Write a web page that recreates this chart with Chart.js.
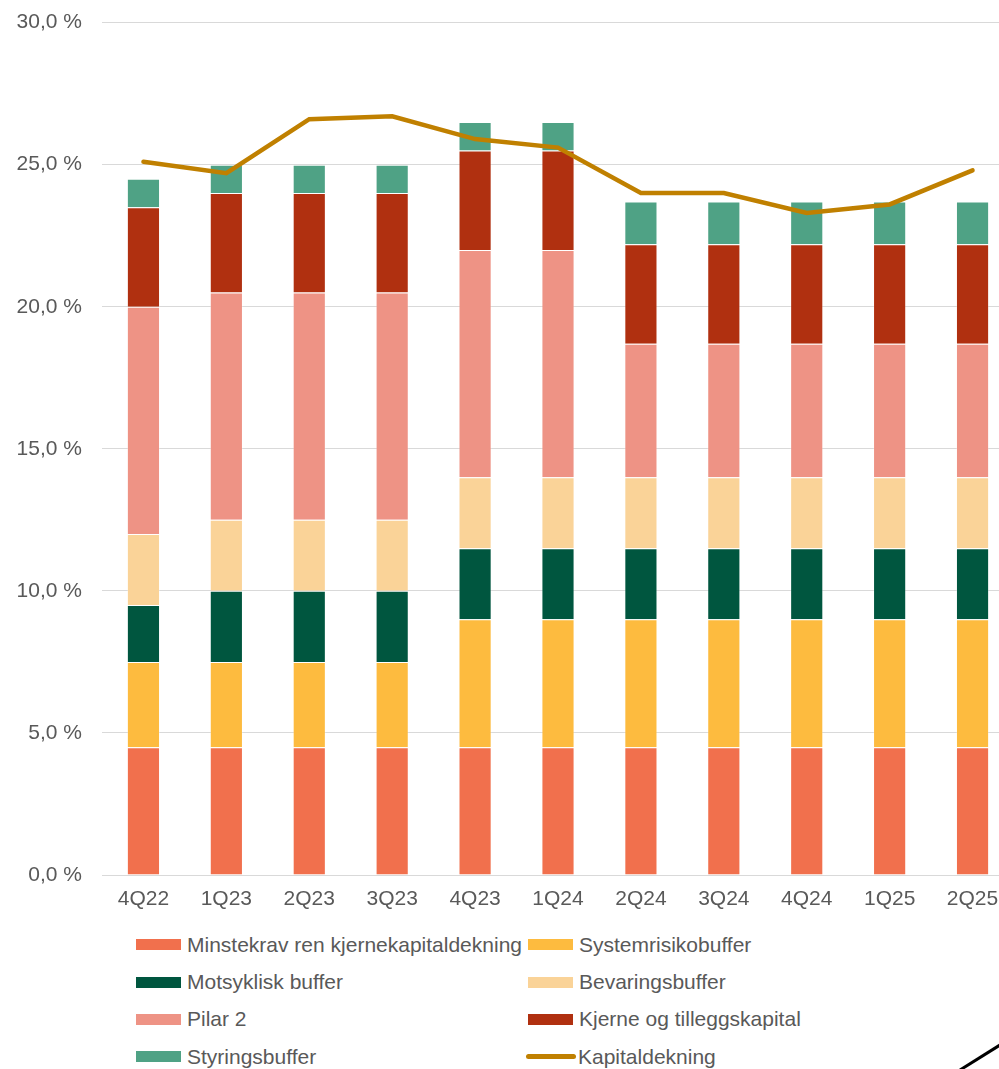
<!DOCTYPE html>
<html>
<head>
<meta charset="utf-8">
<script src="https://cdn.jsdelivr.net/npm/chart.js@4/dist/chart.umd.min.js"></script>
<style>
  html, body { margin: 0; padding: 0; background: #fff; width: 999px; height: 1069px; overflow: hidden; position: relative; }
  #wrap { position: absolute; left: 0; top: -10px; width: 1014px; height: 930px; }
  #legend { position: absolute; left: 136px; top: 926px; display: grid; grid-template-columns: 392px 392px; grid-auto-rows: 37.4px;
            font-family: "Liberation Sans", Arial, sans-serif; font-size: 21px; color: #595959; }
  .item { display: flex; align-items: center; white-space: nowrap; }
  .box { width: 45px; height: 11px; margin-right: 6px; flex: none; }
  .ln { width: 50px; height: 5px; border-radius: 3px; margin-left: -2px; margin-right: 2px; flex: none; }
  #deco { position: absolute; left: 0; top: 0; }
</style>
</head>
<body>
<div id="wrap"><canvas id="c" width="1014" height="930"></canvas></div>
<div id="legend"></div>
<svg id="deco" width="999" height="1069"><line x1="960" y1="1070" x2="1000" y2="1045" stroke="#000" stroke-width="3"/></svg>
<script>
const categories = ["4Q22","1Q23","2Q23","3Q23","4Q23","1Q24","2Q24","3Q24","4Q24","1Q25","2Q25"];
const minstekrav   = [4.5,4.5,4.5,4.5,4.5,4.5,4.5,4.5,4.5,4.5,4.5];
const systemrisiko = [3.0,3.0,3.0,3.0,4.5,4.5,4.5,4.5,4.5,4.5,4.5];
const motsyklisk   = [2.0,2.5,2.5,2.5,2.5,2.5,2.5,2.5,2.5,2.5,2.5];
const bevaring     = [2.5,2.5,2.5,2.5,2.5,2.5,2.5,2.5,2.5,2.5,2.5];
const pilar2       = [8.0,8.0,8.0,8.0,8.0,8.0,4.7,4.7,4.7,4.7,4.7];
const kjerne       = [3.5,3.5,3.5,3.5,3.5,3.5,3.5,3.5,3.5,3.5,3.5];
const styring      = [1.0,1.0,1.0,1.0,1.0,1.0,1.5,1.5,1.5,1.5,1.5];
const kapitaldekning = [25.1,24.7,26.6,26.7,25.9,25.6,24.0,24.0,23.3,23.6,24.8];
const yTicks = [0,5,10,15,20,25,30];

const FONT = "'Liberation Sans', Arial, sans-serif";
const TXT = "#595959";
const edge = "rgba(255,255,255,0.25)";
function bar(label, data, color) {
  return { type: 'bar', label, data, backgroundColor: color, borderColor: edge, borderWidth: 1, stack: 'krav', order: 2,
           barPercentage: 0.4, categoryPercentage: 1.0 };
}
const datasets = [
  bar("Minstekrav ren kjernekapitaldekning", minstekrav, "#F1704D"),
  bar("Systemrisikobuffer", systemrisiko, "#FDBB3F"),
  bar("Motsyklisk buffer", motsyklisk, "#00563F"),
  bar("Bevaringsbuffer", bevaring, "#FAD398"),
  bar("Pilar 2", pilar2, "#EE9385"),
  bar("Kjerne og tilleggskapital", kjerne, "#B03010"),
  bar("Styringsbuffer", styring, "#4FA285"),
  { type: 'line', label: "Kapitaldekning", data: kapitaldekning, borderColor: "#C08000", backgroundColor: "#C08000",
    borderWidth: 4.5, pointRadius: 0, tension: 0, stack: 'line', order: 1, borderCapStyle: 'round', borderJoinStyle: 'miter' }
];

const chart = new Chart(document.getElementById('c'), {
  data: { labels: categories, datasets },
  options: {
    responsive: false, animation: false,
    layout: { padding: { top: 0, right: 0, bottom: 0, left: 0 } },
    plugins: { legend: { display: false }, tooltip: { enabled: false } },
    scales: {
      x: { stacked: true, grid: { display: false, drawTicks: false }, border: { display: true, color: '#D9D9D9', width: 1 },
           ticks: { color: TXT, font: { family: FONT, size: 21 }, padding: 12, maxRotation: 0 },
           afterFit: s => { s.height = 45; } },
      y: { stacked: true, min: 0, max: 30,
           afterBuildTicks: s => { s.ticks = yTicks.map(v => ({ value: v })); },
           grid: { color: '#D9D9D9', lineWidth: 1, drawTicks: false }, border: { display: false },
           ticks: { color: TXT, font: { family: FONT, size: 21 }, padding: 20,
                    callback: v => v.toFixed(1).replace('.', ',') + ' %' },
           afterFit: s => { s.width = 102; } }
    }
  }
});

const leg = document.getElementById('legend');
chart.data.datasets.forEach(ds => {
  const it = document.createElement('div'); it.className = 'item';
  const m = document.createElement('span');
  m.className = ds.type === 'line' ? 'ln' : 'box';
  m.style.background = ds.type === 'line' ? ds.borderColor : ds.backgroundColor;
  const t = document.createElement('span'); t.textContent = ds.label;
  it.appendChild(m); it.appendChild(t); leg.appendChild(it);
});
</script>
</body>
</html>
